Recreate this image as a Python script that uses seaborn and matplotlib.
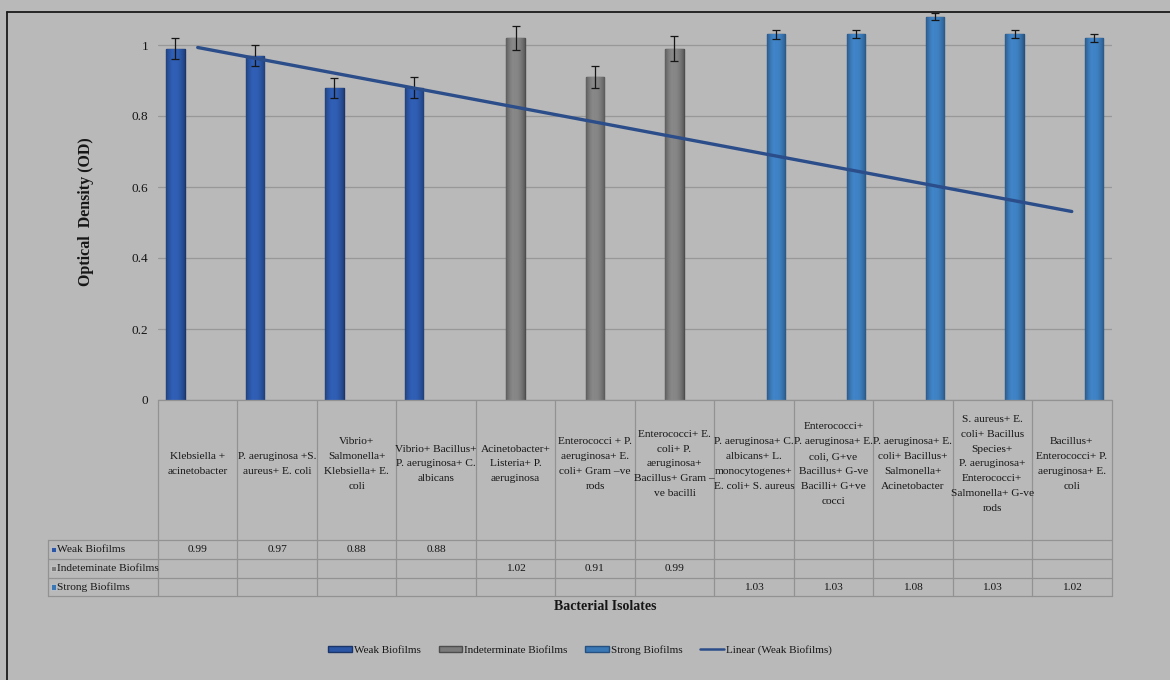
import numpy as np
import pandas as pd
import matplotlib
matplotlib.use("Agg")
import matplotlib.pyplot as plt
from matplotlib.patches import Patch, Rectangle
from matplotlib.lines import Line2D
import matplotlib.colors as mcolors
import seaborn as sns

# ---- data -------------------------------------------------------------
isolates = [
    "Klebsiella +\nacinetobacter",
    "P. aeruginosa +S.\naureus+ E. coli",
    "Vibrio+\nSalmonella+\nKlebsiella+ E.\ncoli",
    "Vibrio+ Bacillus+\nP. aeruginosa+ C.\nalbicans",
    "Acinetobacter+\nListeria+ P.\naeruginosa",
    "Enterococci + P.\naeruginosa+ E.\ncoli+ Gram \u2013ve\nrods",
    "Enterococci+ E.\ncoli+ P.\naeruginosa+\nBacillus+ Gram \u2013\nve bacilli",
    "P. aeruginosa+ C.\nalbicans+ L.\nmonocytogenes+\nE. coli+ S. aureus",
    "Enterococci+\nP. aeruginosa+ E.\ncoli, G+ve\nBacillus+ G-ve\nBacilli+ G+ve\ncocci",
    "P. aeruginosa+ E.\ncoli+ Bacillus+\nSalmonella+\nAcinetobacter",
    "S. aureus+ E.\ncoli+ Bacillus\nSpecies+\nP. aeruginosa+\nEnterococci+\nSalmonella+ G-ve\nrods",
    "Bacillus+\nEnterococci+ P.\naeruginosa+ E.\ncoli",
]
groups = ["Weak Biofilms", "Indeterminate Biofilms", "Strong Biofilms"]
table_row_labels = ["Weak Biofilms", "Indeteminate Biofilms", "Strong Biofilms"]
group_of = ["Weak Biofilms"] * 4 + ["Indeterminate Biofilms"] * 3 + ["Strong Biofilms"] * 5
od_values = [0.99, 0.97, 0.88, 0.88, 1.02, 0.91, 0.99, 1.03, 1.03, 1.08, 1.03, 1.02]
od_errors = [0.030, 0.030, 0.028, 0.030, 0.034, 0.032, 0.034, 0.012, 0.011, 0.010, 0.011, 0.012]
yticks = [0, 0.2, 0.4, 0.6, 0.8, 1.0]
ytick_labels = ["0", "0.2", "0.4", "0.6", "0.8", "1"]
trend_label = "Linear (Weak Biofilms)"

# ---- styling ----------------------------------------------------------
BG = "#b9b9b9"
INK = "#161616"
GRID = "#989898"
TABLE_LINE = "#929292"
fill = {"Weak Biofilms": "#2b56a5", "Indeterminate Biofilms": "#7b7b7b", "Strong Biofilms": "#3a78b5"}
edge = {"Weak Biofilms": "#1b3569", "Indeterminate Biofilms": "#4d4d4d", "Strong Biofilms": "#255080"}
TREND = "#2b4d8a"

sns.set_theme(style="white")
plt.rcParams["font.family"] = ["Liberation Serif", "DejaVu Serif"]
plt.rcParams["text.color"] = INK

W, H = 1170, 680
def fx(px):
    return px / W
def fy(py):
    return 1 - py / H

fig = plt.figure(figsize=(W / 100, H / 100), dpi=100, facecolor=BG)

X0, X1, Y0, YT = 158, 1111.5, 400, 13
ax = fig.add_axes([fx(X0), fy(Y0), fx(X1) - fx(X0), fy(YT) - fy(Y0)])
ax.set_facecolor(BG)

df = pd.DataFrame({"isolate": isolates, "group": group_of, "od": od_values})
sns.barplot(data=df, x="isolate", y="od", hue="group", order=isolates,
            hue_order=groups, palette=fill, dodge=True, width=0.84, gap=0.18,
            errorbar=None, legend=False, linewidth=1.0, ax=ax, zorder=3)

ax.set_xlim(-0.5, len(isolates) - 0.5)
ax.set_ylim(0, (Y0 - YT) / 355.0)

# cylinder-like shading, edges and error bars per bar
for p in list(ax.patches):
    cx = p.get_x() + p.get_width() / 2
    k = int(round(cx))
    g = group_of[k]
    p.set_edgecolor(edge[g])
    base = np.array(mcolors.to_rgb(fill[g]))
    t = np.linspace(0, 1, 64)
    shade = 0.72 + 0.38 * np.sin(np.pi * t) ** 0.8
    shade = np.where(t < 0.4, shade * 1.04, shade)
    grad = np.clip(base[None, :] * shade[:, None], 0, 1)[None, :, :]
    im = ax.imshow(grad, extent=[p.get_x(), p.get_x() + p.get_width(), 0, p.get_height()],
                   aspect="auto", zorder=3.5, interpolation="bilinear")
    im.set_clip_path(p)
    ax.errorbar(cx, p.get_height(), yerr=od_errors[k], fmt="none", ecolor=INK,
                elinewidth=0.9, capsize=3, capthick=0.9, zorder=5)

ax.set_xlim(-0.5, len(isolates) - 0.5)
ax.set_ylim(0, (Y0 - YT) / 355.0)

# linear trendline fitted to the weak-biofilm series
weak_x = np.array([i for i, g in enumerate(group_of) if g == "Weak Biofilms"], dtype=float)
weak_y = np.array([v for v, g in zip(od_values, group_of) if g == "Weak Biofilms"])
slope, intercept = np.polyfit(weak_x, weak_y, 1)
xs = np.arange(len(isolates), dtype=float)
sns.lineplot(x=xs, y=intercept + slope * xs, color=TREND, linewidth=2.4, ax=ax, zorder=6)

ax.set_yticks(yticks)
ax.set_yticklabels(ytick_labels, fontsize=9.5)
ax.set_xticks([])
ax.set_xlabel("")
ax.set_ylabel("")
ax.yaxis.grid(True, color=GRID, linewidth=0.9)
ax.set_axisbelow(True)
for s in ax.spines.values():
    s.set_visible(False)
ax.tick_params(axis="y", length=3, color=GRID, pad=4, labelcolor=INK)

fig.text(fx(86), fy(212), "Optical  Density (OD)", rotation=90, fontsize=11.5,
         fontweight="bold", ha="center", va="center")

# ---- data table under the axis -----------------------------------------
TB = 596
tab = fig.add_axes([fx(X0), fy(TB), fx(X1) - fx(X0), fy(Y0) - fy(TB)])
tab.set_xlim(ax.get_xlim())
tab.set_ylim(TB - Y0, 0)
tab.axis("off")
col_w = (X1 - X0) / len(isolates)
xl = -0.5 - (X0 - 48) / col_w
head_h = 140
row_edges = [head_h, 159, 178, TB - Y0]
n = len(isolates)

line_kw = dict(color=TABLE_LINE, linewidth=0.9, clip_on=False, zorder=2)
tab.plot([-0.5, n - 0.5], [0, 0], **line_kw)
for yv in row_edges:
    tab.plot([xl, n - 0.5], [yv, yv], **line_kw)
for k in range(n + 1):
    tab.plot([k - 0.5, k - 0.5], [0, row_edges[-1]], **line_kw)
tab.plot([xl, xl], [head_h, row_edges[-1]], **line_kw)

for k, lab in enumerate(isolates):
    tab.text(k, head_h / 2 - 6, lab, ha="center", va="center", fontsize=8.2,
             linespacing=1.85, multialignment="center", clip_on=False)

for r, (gname, rlab) in enumerate(zip(groups, table_row_labels)):
    y_top, y_bot = row_edges[r], row_edges[r + 1]
    yc = (y_top + y_bot) / 2
    tab.add_patch(Rectangle((xl + 0.035, yc - 2.8), 0.065, 5.6, facecolor=fill[gname],
                            edgecolor="#d0d0d0", linewidth=0.5, clip_on=False))
    tab.text(xl + 0.115, yc, rlab, ha="left", va="center", fontsize=8.2, clip_on=False)
    for k, (g, v) in enumerate(zip(group_of, od_values)):
        if g == gname:
            tab.text(k, yc, f"{v:.2f}", ha="center", va="center", fontsize=8.2)

fig.text(fx(605), fy(607), "Bacterial Isolates", fontsize=10, fontweight="bold",
         ha="center", va="center")

# ---- legend -------------------------------------------------------------
handles = [Patch(facecolor=fill[g], edgecolor=edge[g], linewidth=1.0) for g in groups]
handles.append(Line2D([0], [0], color=TREND, linewidth=1.8))
fig.legend(handles, groups + [trend_label], loc="center", ncol=4,
           bbox_to_anchor=(fx(580), fy(650)), frameon=False, fontsize=8,
           handlelength=2.1, handleheight=0.45, handletextpad=0.2, columnspacing=1.6)

# ---- outer frame ------------------------------------------------------------
fig.add_artist(Line2D([fx(7), fx(7)], [0, fy(12)], color="#1a1a1a", linewidth=1.3,
                      transform=fig.transFigure))
fig.add_artist(Line2D([fx(7), 1], [fy(12), fy(12)], color="#1a1a1a", linewidth=1.3,
                      transform=fig.transFigure))

fig.savefig("out.png", dpi=100, facecolor=BG)
